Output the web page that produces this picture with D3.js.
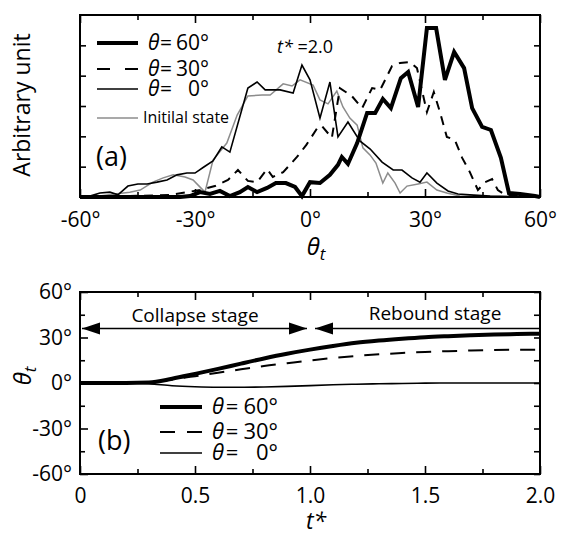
<!DOCTYPE html>
<html><head><meta charset="utf-8">
<script src="https://cdn.jsdelivr.net/npm/d3@7"></script>
<style>
body{margin:0;background:#fff}
svg{display:block}
text{font-family:'Open Sans',sans-serif;fill:#000}
</style>
</head><body>
<svg id="c" width="561" height="536"></svg>
<script>
// ---------- Panel (a) data: distributions of theta_t at t* = 2.0 ----------
const thetaTicksA = [-60, -30, 0, 30, 60];
const thetaMinorA = [-45, -15, 15, 45];
const unitTicksA = [1, 2, 3, 4, 5];

const theta60 = [-60,-33.9,-31.3,-28.7,-26.1,-23.5,-20.9,-18.3,-16.2,-13.8,-11.2,-8.9,-6.3,-3.9,-2.1,0,2.6,5.2,7.3,8.3,9.9,12.3,14.9,17,19,21.1,23.7,25.6,28.2,30.5,32.9,35.2,37.6,40.2,42.3,44.9,47.2,49.8,51.9,54.8,58.7,60];
const value60 = [0,0,0.03,0.16,0.1,0.2,0.03,0.16,0.33,0.16,0.3,0.46,0.46,0.33,0.03,0.49,0.46,0.73,1.06,1.32,1.09,1.78,2.77,2.77,3.23,2.93,3.92,4.12,2.97,5.57,5.57,3.86,4.78,4.25,2.93,2.31,2.21,1.29,0.13,0.1,0.03,0];

const theta30 = [-60,-47,-36.5,-28.7,-24.8,-21.4,-18.8,-16.2,-13.8,-11.2,-9.7,-7,-3.4,-1,2.1,3.1,5.7,7.8,10.9,13.6,16.2,18.3,21.4,23.5,26.1,27.9,30.5,32.3,33.9,35.7,37.8,39.7,41.7,43.8,45.7,47.5,49,50.9,60];
const value30 = [0,0.03,0.07,0.23,0.36,0.56,0.89,0.53,0.49,0.92,0.66,0.82,1.32,1.71,2.31,2.34,1.95,3.59,3.33,2.93,3.59,3.53,4.32,4.42,4.45,4.25,2.8,3.46,2.8,1.98,1.88,1.29,0.82,0.23,0.49,0.59,0.23,0.07,0];

const theta0 = [-60,-57.4,-54.8,-52.2,-50.1,-47.5,-44.9,-42.5,-39.9,-37.3,-34.7,-32.1,-30,-27.7,-25.3,-23,-20.9,-16.2,-13.8,-11.7,-7.8,-4.4,-2.1,0,2.6,5.2,7.3,9.9,13,15.7,18.8,21.7,24,26.6,28.7,30.5,33.1,36,38.6,41.7,47,60];
const value0 = [0,0.03,0.13,0.16,0.07,0.36,0.43,0.43,0.49,0.56,0.73,0.79,0.79,0.99,1.19,1.65,1.48,3.59,3.79,3.53,3.53,3.43,4.35,3.86,2.6,3.79,1.98,2.47,1.85,1.58,1.15,0.89,0.89,0.63,0.49,0.79,0.46,0.2,0.1,0.07,0.03,0];

const thetaInit = [-60,-54.8,-50.9,-47,-44.3,-41,-38.3,-35.7,-32.6,-30.5,-27.4,-25.3,-21.7,-19,-16.2,-12.5,-10.4,-7,-4.7,-2.6,0.8,2.6,4.7,7,8.6,10.4,12.3,13.8,15.7,17.2,19,20.3,22.2,23.5,25.3,28.2,30.5,33.1,35.7,39.1,60];
const valueInit = [0,0.03,0.1,0.16,0.23,0.49,0.63,0.73,0.66,0.56,0.16,1.22,1.78,2.7,3.33,3.36,3.36,3.73,3.66,3.86,3.69,3.2,3.07,3.49,2.97,2.6,2.37,1.62,1.38,1.12,0.46,0.79,0.46,0.13,0.36,0.43,0.49,0.23,0.13,0.03,0];

// ---------- Panel (b) data: theta_t vs t* ----------
const tStar = [0,0.1,0.2,0.3,0.4,0.5,0.6,0.7,0.8,0.9,1.0,1.1,1.2,1.3,1.4,1.5,1.6,1.7,1.8,1.9,2.0];
const thetaT60 = [0,0,0,0.3,2.8,6,9.3,12.8,16.2,19.3,22,24.4,26.5,28,29.2,30.2,30.9,31.5,32,32.3,32.5];
const thetaT30 = [0,0,0,0.5,2.3,4.5,6.8,9,11.2,13,14.8,16.5,17.8,18.9,19.8,20.5,21,21.4,21.7,21.9,22];
const thetaT0  = [0,0,0,-0.5,-1.8,-2.5,-2.8,-2.8,-2.6,-2.2,-1.7,-1.2,-0.8,-0.5,-0.3,-0.1,0,0,0,0,0];
const tTicksB = [0, 0.5, 1.0, 1.5, 2.0];
const tMinorB = [0.25, 0.75, 1.25, 1.75];
const thetaTicksB = [-60, -30, 0, 30, 60];
const thetaMinorB = [-45, -15, 15, 45];
const stageBounds = [0, 1.0, 2.0];
const stageLevel = 36;
const stageNames = ["Collapse stage", "Rebound stage"];
const legendNames = ["60", "30", "0"];

const svg = d3.select("#c");
const L = 80, R = 540;

// ---------- scales ----------
const xA = d3.scaleLinear().domain([-60, 60]).range([L, R]);
const yA = d3.scaleLinear().domain([0, 6]).range([197, 15]);
const xB = d3.scaleLinear().domain([0, 2]).range([L, R]);
const yB = d3.scaleLinear().domain([-60, 60]).range([474, 292]);

function cleanAxis(g){ g.select(".domain").remove(); g.selectAll("line").attr("stroke","#000").attr("stroke-width",1.6); }

// ---------- Panel (a) ----------
const gA = svg.append("g");
const lineA = (th, v) => d3.line().x((d,i)=>xA(th[i])).y((d,i)=>yA(v[i]))(v);
gA.append("path").attr("d", lineA(thetaInit, valueInit)).attr("fill","none").attr("stroke","#8c8c8c").attr("stroke-width",1.5);
gA.append("path").attr("d", lineA(theta0, value0)).attr("fill","none").attr("stroke","#000").attr("stroke-width",1.6);
gA.append("path").attr("d", lineA(theta30, value30)).attr("fill","none").attr("stroke","#000").attr("stroke-width",2).attr("stroke-dasharray","9,7");
gA.append("path").attr("d", lineA(theta60, value60)).attr("fill","none").attr("stroke","#000").attr("stroke-width",4).attr("stroke-linejoin","miter");

// axes (a)
gA.append("g").attr("transform","translate(0,197)")
  .call(d3.axisBottom(xA).tickValues(thetaTicksA).tickSizeInner(-8).tickSizeOuter(0).tickPadding(15).tickFormat(d=>d+"°"))
  .call(cleanAxis).selectAll("text").attr("font-size",21).attr("font-family","'Open Sans',sans-serif");
gA.append("g").attr("transform","translate(0,197)")
  .call(d3.axisBottom(xA).tickValues(thetaMinorA).tickSizeInner(-5).tickSizeOuter(0).tickFormat(""))
  .call(cleanAxis);
gA.append("g").attr("transform","translate(0,15)")
  .call(d3.axisTop(xA).tickValues(thetaTicksA).tickSizeInner(-8).tickSizeOuter(0).tickFormat(""))
  .call(cleanAxis);
gA.append("g").attr("transform","translate(0,15)")
  .call(d3.axisTop(xA).tickValues(thetaMinorA).tickSizeInner(-5).tickSizeOuter(0).tickFormat(""))
  .call(cleanAxis);
gA.append("g").attr("transform",`translate(${L},0)`)
  .call(d3.axisLeft(yA).tickValues(unitTicksA).tickSizeInner(-6).tickSizeOuter(0).tickFormat(""))
  .call(cleanAxis);
gA.append("g").attr("transform",`translate(${R},0)`)
  .call(d3.axisRight(yA).tickValues(unitTicksA).tickSizeInner(-6).tickSizeOuter(0).tickFormat(""))
  .call(cleanAxis);
gA.append("rect").attr("x",L).attr("y",15).attr("width",R-L).attr("height",182)
  .attr("fill","none").attr("stroke","#000").attr("stroke-width",2);

// legend (a)
const legA = [{dash:null,w:4,y:43},{dash:"13,15",w:2,y:69},{dash:null,w:1.6,y:89}];
legA.forEach((d,i)=>{
  gA.append("line").attr("x1",97).attr("x2",138).attr("y1",d.y).attr("y2",d.y)
    .attr("stroke","#000").attr("stroke-width",d.w).attr("stroke-dasharray",d.dash);
  const by = d.y + 7;
  gA.append("text").attr("x",148).attr("y",by).attr("font-size",21).attr("font-style","italic").text("θ");
  gA.append("text").attr("x",166).attr("y",by).attr("font-size",21).attr("text-anchor","middle").text("=");
  gA.append("text").attr("x",209).attr("y",by).attr("font-size",21).attr("text-anchor","end").text(legendNames[i]+"°");
});
gA.append("line").attr("x1",97).attr("x2",138).attr("y1",118).attr("y2",118).attr("stroke","#8c8c8c").attr("stroke-width",1.5);
gA.append("text").attr("x",143).attr("y",123).attr("font-size",16).text("Initilal state");
const tlab = gA.append("text").attr("x",277).attr("y",53).attr("font-size",18);
tlab.append("tspan").attr("font-style","italic").text("t*");
tlab.append("tspan").text(" =2.0");
gA.append("text").attr("x",96).attr("y",166).attr("font-size",27).text("(a)");

// axis titles (a)
gA.append("text").attr("transform","translate(30,105) rotate(-90)").attr("text-anchor","middle").attr("font-size",23).text("Arbitrary unit");
const thA = gA.append("text").attr("x",316).attr("y",255).attr("text-anchor","middle").attr("font-size",24);
thA.append("tspan").attr("font-style","italic").text("θ");
thA.append("tspan").attr("font-style","italic").attr("font-size",17).attr("dy",5).text("t");

// ---------- Panel (b) ----------
const gB = svg.append("g");
const lineB = d3.line().x((d,i)=>xB(tStar[i])).y(d=>yB(d)).curve(d3.curveMonotoneX);
gB.append("path").attr("d", lineB(thetaT0)).attr("fill","none").attr("stroke","#000").attr("stroke-width",1.6);
gB.append("path").attr("d", lineB(thetaT30)).attr("fill","none").attr("stroke","#000").attr("stroke-width",2).attr("stroke-dasharray","15,11");
gB.append("path").attr("d", lineB(thetaT60)).attr("fill","none").attr("stroke","#000").attr("stroke-width",4);

// stage arrows
const ay = yB(stageLevel);
function arrowHead(xTip, dir){
  const len = 18, hw = 6;
  gB.append("path").attr("d", `M${xTip},${ay} L${xTip+dir*len},${ay-hw} L${xTip+dir*len},${ay+hw} Z`).attr("fill","#000");
}
gB.append("line").attr("x1",xB(stageBounds[0])+2).attr("x2",xB(stageBounds[1])-3).attr("y1",ay).attr("y2",ay).attr("stroke","#000").attr("stroke-width",1.5);
gB.append("line").attr("x1",xB(stageBounds[1])+5).attr("x2",xB(stageBounds[2])).attr("y1",ay).attr("y2",ay).attr("stroke","#000").attr("stroke-width",1.5);
arrowHead(xB(stageBounds[0])+2, 1);
arrowHead(xB(stageBounds[1])-3, -1);
arrowHead(xB(stageBounds[1])+5, 1);
gB.append("text").attr("x",195).attr("y",322).attr("text-anchor","middle").attr("font-size",19).text(stageNames[0]);
gB.append("text").attr("x",435).attr("y",320).attr("text-anchor","middle").attr("font-size",19).text(stageNames[1]);

// axes (b)
gB.append("g").attr("transform","translate(0,474)")
  .call(d3.axisBottom(xB).tickValues(tTicksB).tickSizeInner(-8).tickSizeOuter(0).tickPadding(14).tickFormat(d=>d===0?"0":d3.format(".1f")(d)))
  .call(cleanAxis).selectAll("text").attr("font-size",21).attr("font-family","'Open Sans',sans-serif");
gB.append("g").attr("transform","translate(0,474)")
  .call(d3.axisBottom(xB).tickValues(tMinorB).tickSizeInner(-5).tickSizeOuter(0).tickFormat(""))
  .call(cleanAxis);
gB.append("g").attr("transform","translate(0,292)")
  .call(d3.axisTop(xB).tickValues(tTicksB).tickSizeInner(-8).tickSizeOuter(0).tickFormat(""))
  .call(cleanAxis);
gB.append("g").attr("transform","translate(0,292)")
  .call(d3.axisTop(xB).tickValues(tMinorB).tickSizeInner(-5).tickSizeOuter(0).tickFormat(""))
  .call(cleanAxis);
gB.append("g").attr("transform",`translate(${L},0)`)
  .call(d3.axisLeft(yB).tickValues(thetaTicksB).tickSizeInner(-8).tickSizeOuter(0).tickPadding(8).tickFormat(d=>d+"°"))
  .call(cleanAxis).selectAll("text").attr("font-size",21).attr("font-family","'Open Sans',sans-serif");
gB.append("g").attr("transform",`translate(${L},0)`)
  .call(d3.axisLeft(yB).tickValues(thetaMinorB).tickSizeInner(-5).tickSizeOuter(0).tickFormat(""))
  .call(cleanAxis);
gB.append("g").attr("transform",`translate(${R},0)`)
  .call(d3.axisRight(yB).tickValues(thetaTicksB.concat(thetaMinorB)).tickSizeInner(-6).tickSizeOuter(0).tickFormat(""))
  .call(cleanAxis);
gB.append("rect").attr("x",L).attr("y",292).attr("width",R-L).attr("height",182)
  .attr("fill","none").attr("stroke","#000").attr("stroke-width",2);

// legend (b)
const legB = [{dash:null,w:4,y:407},{dash:"15,12",w:2,y:432},{dash:null,w:1.6,y:453}];
legB.forEach((d,i)=>{
  gB.append("line").attr("x1",160).attr("x2",202).attr("y1",d.y).attr("y2",d.y)
    .attr("stroke","#000").attr("stroke-width",d.w).attr("stroke-dasharray",d.dash);
  const by = d.y + 7;
  gB.append("text").attr("x",212).attr("y",by).attr("font-size",22).attr("font-style","italic").text("θ");
  gB.append("text").attr("x",232).attr("y",by).attr("font-size",22).attr("text-anchor","middle").text("=");
  gB.append("text").attr("x",278).attr("y",by).attr("font-size",22).attr("text-anchor","end").text(legendNames[i]+"°");
});
gB.append("text").attr("x",98).attr("y",450).attr("font-size",27).text("(b)");

// axis titles (b)
const thB = gB.append("text").attr("transform","translate(31,376) rotate(-90)").attr("text-anchor","middle").attr("font-size",24);
thB.append("tspan").attr("font-style","italic").text("θ");
thB.append("tspan").attr("font-style","italic").attr("font-size",17).attr("dy",5).text("t");
gB.append("text").attr("x",316).attr("y",529).attr("text-anchor","middle").attr("font-size",23).attr("font-style","italic").text("t*");
</script>
</body></html>
